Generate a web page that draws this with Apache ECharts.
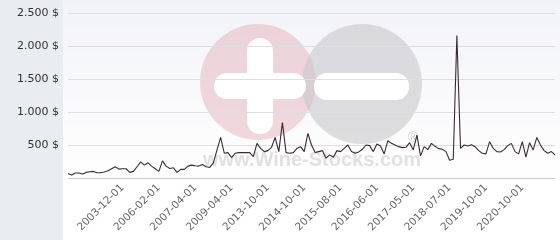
<!DOCTYPE html>
<html><head><meta charset="utf-8">
<script src="https://cdn.jsdelivr.net/npm/echarts@6/dist/echarts.min.js"></script>
<style>html,body{margin:0;padding:0;background:#fff}#c{width:560px;height:240px}</style>
</head><body><div id="c"></div>
<script>
const dates = [
'2001-05-01','2001-07-01','2001-09-01','2001-11-01','2002-01-01','2002-03-01','2002-05-01','2002-07-01','2002-09-01','2002-11-01',
'2003-01-01','2003-03-01','2003-05-01','2003-08-01','2003-10-01','2003-12-01','2004-03-01','2004-06-01','2004-09-01','2004-11-01',
'2005-02-01','2005-05-01','2005-07-01','2005-09-01','2005-11-01','2006-02-01','2006-04-01','2006-05-01','2006-07-01','2006-08-01',
'2006-10-01','2006-11-01','2007-01-01','2007-02-01','2007-03-01','2007-04-01','2007-06-01','2007-09-01','2007-11-01','2008-01-01',
'2008-04-01','2008-06-01','2008-09-01','2008-11-01','2009-02-01','2009-04-01','2009-10-01','2010-03-01','2010-08-01','2011-02-01',
'2011-07-01','2012-01-01','2012-06-01','2012-11-01','2013-05-01','2013-10-01','2013-11-01','2014-01-01','2014-02-01','2014-03-01',
'2014-04-01','2014-06-01','2014-07-01','2014-08-01','2014-09-01','2014-10-01','2014-11-01','2014-12-01','2015-01-01','2015-02-01',
'2015-03-01','2015-04-01','2015-05-01','2015-06-01','2015-07-01','2015-08-01','2015-09-01','2015-10-01','2015-11-01','2015-12-01',
'2016-01-01','2016-02-01','2016-03-01','2016-04-01','2016-05-01','2016-06-01','2016-07-01','2016-08-01','2016-09-01','2016-10-01',
'2016-11-01','2016-12-01','2017-01-01','2017-02-01','2017-04-01','2017-05-01','2017-06-01','2017-07-01','2017-09-01','2017-10-01',
'2017-11-01','2018-01-01','2018-02-01','2018-04-01','2018-05-01','2018-07-01','2018-08-01','2018-10-01','2018-11-01','2019-01-01',
'2019-02-01','2019-04-01','2019-05-01','2019-07-01','2019-08-01','2019-10-01','2019-11-01','2019-12-01','2020-01-01','2020-02-01',
'2020-03-01','2020-05-01','2020-06-01','2020-07-01','2020-08-01','2020-10-01','2020-11-01','2020-12-01','2021-01-01','2021-02-01',
'2021-03-01','2021-04-01','2021-05-01','2021-06-01','2021-07-01'
];
const prices = [
70,45,75,75,60,85,95,100,80,80,
90,110,140,170,135,140,140,85,100,170,
245,195,230,180,140,100,260,180,145,155,
85,130,130,180,195,185,180,205,170,160,
230,425,615,375,385,310,375,385,385,385,
385,325,525,450,400,415,465,615,400,840,
385,375,385,450,475,400,675,500,385,400,
415,300,350,315,415,400,450,500,400,375,
395,435,500,490,400,515,485,365,565,525,
500,475,460,465,535,425,650,335,475,430,
525,480,445,435,400,270,285,2160,450,500,
485,505,475,415,375,365,550,450,400,395,
430,490,525,400,365,550,315,535,425,615,
500,415,375,400,350
];
const labelDates = ['2003-12-01','2006-02-01','2007-04-01','2009-04-01','2013-10-01','2014-10-01','2015-08-01','2016-06-01','2017-05-01','2018-07-01','2019-10-01','2020-10-01'];
const yTicks = [0,500,1000,1500,2000,2500];

function fmtY(v){ if(v===0) return ''; return String(v).replace(/\B(?=(\d{3})+(?!\d))/g,'.') + ' $'; }

const chart = echarts.init(document.getElementById('c'), null, {renderer:'canvas'});
chart.setOption({
  animation:false,
  backgroundColor:'#ffffff',
  graphic:[
    {type:'rect', z:-10, silent:true, shape:{x:0,y:0,width:63,height:240}, style:{fill:'#e9edf0'}},
    {type:'rect', z:-10, silent:true, shape:{x:63,y:0,width:497,height:180},
      style:{fill:new echarts.graphic.LinearGradient(0,0,0,1,[{offset:0,color:'#f2f3f7'},{offset:1,color:'#ffffff'}])}},
    {type:'circle', z:-5, silent:true, shape:{cx:258,cy:82,r:58}, style:{fill:'rgba(226,170,182,0.45)'}},
    {type:'circle', z:-5, silent:true, shape:{cx:362,cy:84,r:60}, style:{fill:'rgba(200,200,203,0.6)'}},
    {type:'rect', z:-4, silent:true, shape:{x:247,y:38,width:26,height:96,r:13}, style:{fill:'#ffffff'}},
    {type:'rect', z:-4, silent:true, shape:{x:214,y:73,width:92,height:26,r:13}, style:{fill:'#ffffff'}},
    {type:'rect', z:-4, silent:true, shape:{x:314,y:73,width:95,height:27,r:13}, style:{fill:'#ffffff'}},
    {type:'text', z:-3, silent:true, x:312, y:160, style:{text:'www.Wine-Stocks.com', fill:'rgba(200,200,200,0.55)', font:'bold 20px "Liberation Sans", Arial, sans-serif', align:'center', verticalAlign:'middle'}},
    {type:'text', z:-3, silent:true, x:413, y:138, style:{text:'®', fill:'rgba(190,190,190,0.7)', font:'14px "Liberation Sans", Arial, sans-serif', align:'center', verticalAlign:'middle'}}
  ],
  grid:{left:68, right:5, top:13, bottom:62, containLabel:false},
  xAxis:{
    type:'category', data:dates, boundaryGap:false,
    axisLine:{show:true, lineStyle:{color:'#cccccc', width:1}},
    axisTick:{show:false},
    splitLine:{show:false},
    axisLabel:{
      rotate:45, margin:8, color:'#666666', fontSize:10.5, fontFamily:'DejaVu Sans',
      interval:function(i, v){ return labelDates.indexOf(v) >= 0; }
    }
  },
  yAxis:{
    type:'value', min:yTicks[0], max:yTicks[yTicks.length-1], interval:500,
    axisLine:{show:false}, axisTick:{show:false},
    splitLine:{show:true, lineStyle:{color:'#dfdfe2', width:1}},
    axisLabel:{margin:9, color:'#333333', fontSize:11, fontFamily:'DejaVu Sans', formatter:fmtY}
  },
  series:[{
    type:'line', data:prices, showSymbol:false, symbol:'none',
    lineStyle:{color:'#3c2a32', width:1.1}
  }]
});
</script></body></html>
